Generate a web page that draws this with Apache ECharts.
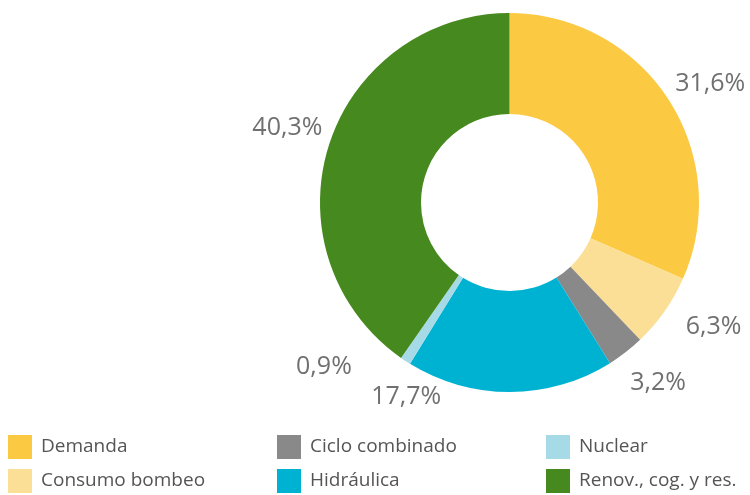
<!DOCTYPE html>
<html>
<head>
<meta charset="utf-8">
<script src="https://cdn.jsdelivr.net/npm/echarts@6/dist/echarts.min.js"></script>
<style>
  html, body { margin: 0; padding: 0; background: #fff; }
  #chart { width: 750px; height: 495px; }
</style>
</head>
<body>
<div id="chart"></div>
<script>
// Energy balance shares (%)
const categories = ['Demanda', 'Consumo bombeo', 'Ciclo combinado', 'Hidráulica', 'Nuclear', 'Renov., cog. y res.'];
const shares = [31.6, 6.3, 3.2, 17.7, 0.9, 40.3];
const colors = ['#FCC943', '#FBDF97', '#898989', '#00B2D2', '#A6DAE7', '#46891E'];

// Donut geometry
const CX = 509.5, CY = 202.5, R_IN = 88.5, R_OUT = 189.5;
const LABEL_R = 236;
// Extra label offsets (px) so neighbouring small slices keep their labels apart
const labelShift = [[3, 10], [11, -11], [4, -6], [-104, -42], [-56, -33], [3, -4]];

const total = shares.reduce((a, b) => a + b, 0);
const midAngles = [];
let acc = 0;
shares.forEach(v => { midAngles.push((acc + v / 2) / total * 2 * Math.PI); acc += v; });

const fmt = v => v.toFixed(1).replace('.', ',') + '%';

const chart = echarts.init(document.getElementById('chart'), null, { renderer: 'canvas' });

const legendBase = {
  orient: 'vertical',
  top: 435,
  height: 60,
  padding: 0,
  itemWidth: 24,
  itemHeight: 24,
  itemGap: 10,
  icon: 'rect',
  textStyle: { fontFamily: 'Open Sans', fontSize: 19, color: '#555555', padding: [2, 0, 0, 4] },
  selectedMode: false
};

chart.setOption({
  animation: false,
  color: colors,
  legend: [
    Object.assign({}, legendBase, { left: 8, data: categories.slice(0, 2) }),
    Object.assign({}, legendBase, { left: 277, data: categories.slice(2, 4) }),
    Object.assign({}, legendBase, { left: 546, data: categories.slice(4, 6) })
  ],
  series: [{
    type: 'pie',
    center: [CX, CY],
    radius: [R_IN, R_OUT],
    startAngle: 90,
    clockwise: true,
    avoidLabelOverlap: false,
    itemStyle: { borderWidth: 0 },
    label: {
      show: true,
      position: 'outside',
      formatter: p => fmt(p.value),
      fontFamily: 'Open Sans',
      fontSize: 25,
      color: '#707070'
    },
    labelLine: { show: false },
    labelLayout: function (p) {
      const a = midAngles[p.dataIndex];
      const s = labelShift[p.dataIndex];
      return {
        x: CX + Math.sin(a) * LABEL_R + s[0],
        y: CY - Math.cos(a) * LABEL_R + s[1],
        align: 'center',
        verticalAlign: 'middle'
      };
    },
    emphasis: { disabled: true },
    data: categories.map((c, i) => ({ name: c, value: shares[i] }))
  }]
});
</script>
</body>
</html>
